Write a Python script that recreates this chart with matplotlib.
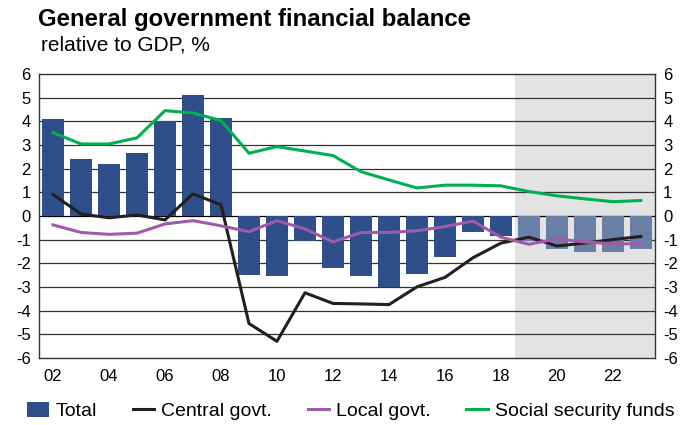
import numpy as np
import matplotlib.pyplot as plt

plt.rcParams['font.family'] = ['Liberation Sans', 'DejaVu Sans']
plt.rcParams['axes.unicode_minus'] = False

years = list(range(2002, 2024))
total = [4.1, 2.4, 2.2, 2.65, 4.0, 5.1, 4.15, -2.5, -2.55, -1.05, -2.2, -2.55, -3.0,
         -2.45, -1.75, -0.7, -0.87, -1.05, -1.4, -1.53, -1.53, -1.4]
central = [0.9, 0.08, -0.08, 0.04, -0.17, 0.93, 0.47, -4.55, -5.3, -3.25, -3.7, -3.72, -3.75,
           -3.0, -2.6, -1.77, -1.15, -0.9, -1.27, -1.15, -1.0, -0.87]
local = [-0.38, -0.7, -0.78, -0.73, -0.34, -0.2, -0.42, -0.67, -0.2, -0.55, -1.1, -0.7, -0.7,
         -0.63, -0.45, -0.22, -0.9, -1.2, -0.97, -1.1, -1.18, -1.18]
social = [3.52, 3.04, 3.04, 3.3, 4.45, 4.35, 4.03, 2.65, 2.93, 2.74, 2.55, 1.87, 1.52,
          1.18, 1.3, 1.3, 1.27, 1.03, 0.85, 0.72, 0.6, 0.65]
forecast_start = 2019
xtick_years = list(range(2002, 2023, 2))

fig = plt.figure(figsize=(6.85, 4.25), dpi=100)
ax = fig.add_axes([0.057, 0.158, 0.899, 0.668])

x = np.array(years)
bar_colors = ['#2E4F8A' if y < forecast_start else '#6A7FA6' for y in years]
ax.axvspan(forecast_start - 0.5, years[-1] + 0.5, color='#E3E3E3', zorder=0, lw=0)
for v in range(-5, 6):
    ax.axhline(v, color='#333333' if v != 0 else 'black', lw=0.9, zorder=1)
bars = ax.bar(x, total, width=0.78, color=bar_colors, zorder=2)
l1, = ax.plot(x, central, color='#231F20', lw=2.2, zorder=3)
l2, = ax.plot(x, local, color='#A05AAA', lw=2.2, zorder=3)
l3, = ax.plot(x, social, color='#00B050', lw=2.2, zorder=3)

ax.set_xlim(years[0] - 0.5, years[-1] + 0.5)
ax.set_ylim(-6, 6)
ax.set_yticks(range(-6, 7))
ax.set_xticks(xtick_years)
ax.set_xticklabels([f'{y % 100:02d}' for y in xtick_years])
ax.tick_params(axis='both', length=0, labelsize=12, pad=6)
ax.tick_params(axis='y', labelright=True, right=False)
ax.tick_params(axis='x', pad=8)
for s in ax.spines.values():
    s.set_color('#333333')
    s.set_linewidth(1.0)

fig.text(0.055, 0.955, 'General government financial balance', fontsize=17.3,
         fontweight='bold', va='center')
fig.text(0.06, 0.893, 'relative to GDP, %', fontsize=15, va='center')

fig.legend([bars[0], l1, l2, l3],
           ['Total', 'Central govt.', 'Local govt.', 'Social security funds'],
           loc='center', ncol=4, frameon=False, fontsize=14,
           bbox_to_anchor=(0.512, 0.033), handlelength=1.1, handleheight=0.8,
           columnspacing=1.85, handletextpad=0.35)

fig.savefig('out.png', dpi=100)
